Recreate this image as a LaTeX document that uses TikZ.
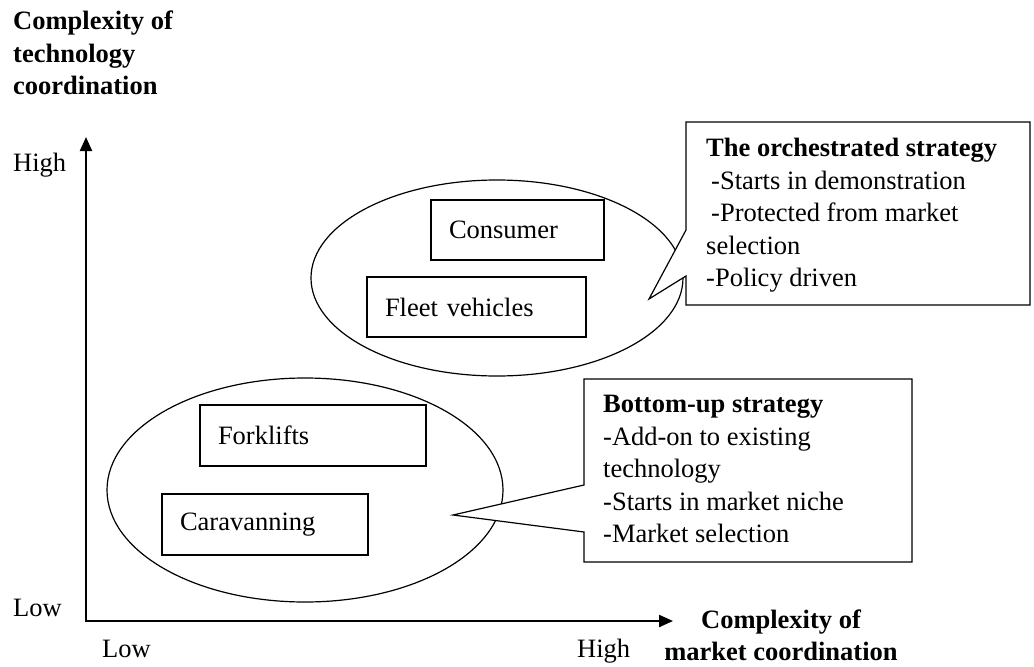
\documentclass[tikz,border=0pt]{standalone}
\usepackage{fontspec}
\setmainfont{Liberation Serif}
\usepackage{tikz}
\usetikzlibrary{arrows.meta}
\usetikzlibrary{shapes.geometric}
\usetikzlibrary{positioning}

\newcommand{\figfont}{\fontsize{26.5}{32.5}\selectfont}

\begin{document}
\begin{tikzpicture}[x=1pt, y=-1pt,
	every node/.style={font=\figfont, inner sep=0pt},
	segbox/.style={draw, line width=1.2pt, align=left, inner xsep=18pt, minimum height=60pt},
	cluster/.style={ellipse, draw, line width=1.2pt, inner sep=0pt},
	balloon/.style={fill=white, draw=black, line width=1.2pt, line join=miter}]
	\useasboundingbox (0,0) rectangle (1034,667);

	% axes
	\coordinate (o) at (86,621);
	\coordinate (ytip) at (86,137);
	\coordinate (xtip) at (673,621);
	\draw[line width=2.2pt, {Triangle[length=14pt,width=12pt]}-{Triangle[length=14pt,width=12pt]}] (ytip) -- (o) -- (xtip);

	\node[anchor=north west, align=left, font=\figfont\bfseries] (ytitle) at (13,11) {Complexity of\\technology\\coordination};
	\node[anchor=base west] (yhigh) at (13,171) {High};
	\node[anchor=base west] (ylow) at (13,616) {Low};
	\node[anchor=base west] (xlow) at (102,657) {Low};
	\node[anchor=base west] (xhigh) at (577,657) {High};
	\node[anchor=north, align=center, font=\fontsize{26.5}{31.5}\selectfont\bfseries] (xtitle) at (781,610) {Complexity of\\market coordination};

	% segment clusters
	\node[cluster, minimum width=372pt, minimum height=196pt] (upper) at (497,278) {};
	\node[cluster, minimum width=396pt, minimum height=224pt] (lower) at (305,490) {};

	\node[segbox, text width=137pt] (consumer) at (517.5,230) {Consumer};
	\node[segbox, text width=183pt] (fleet) at (476.5,307) {Fleet vehicles};
	\node[segbox, text width=190pt, minimum height=61pt] (forklift) at (313,435.5) {Forklifts};
	\node[segbox, text width=170pt, minimum height=61pt] (caravan) at (265,524.5) {Caravanning};

	% strategy callouts
	\path[balloon] (686,122) -- (1030,122) -- (1030,305) -- (686,305) -- (686,276) -- (649,299) -- (686,230) -- cycle;
	\path[balloon] (584,379) -- (912,379) -- (912,562) -- (584,562) -- (584,532) -- (453,515) -- (584,485) -- cycle;

	\node[anchor=north west, align=left] (orch) at (706,138)
		{\textbf{The orchestrated strategy}\\\hspace*{5pt}-Starts in demonstration\\\hspace*{5pt}-Protected from market\\selection\\-Policy driven};
	\node[anchor=north west, align=left] (bottomup) at (603,395)
		{\textbf{Bottom-up strategy}\\-Add-on to existing\\technology\\-Starts in market niche\\-Market selection};
\end{tikzpicture}
\end{document}
